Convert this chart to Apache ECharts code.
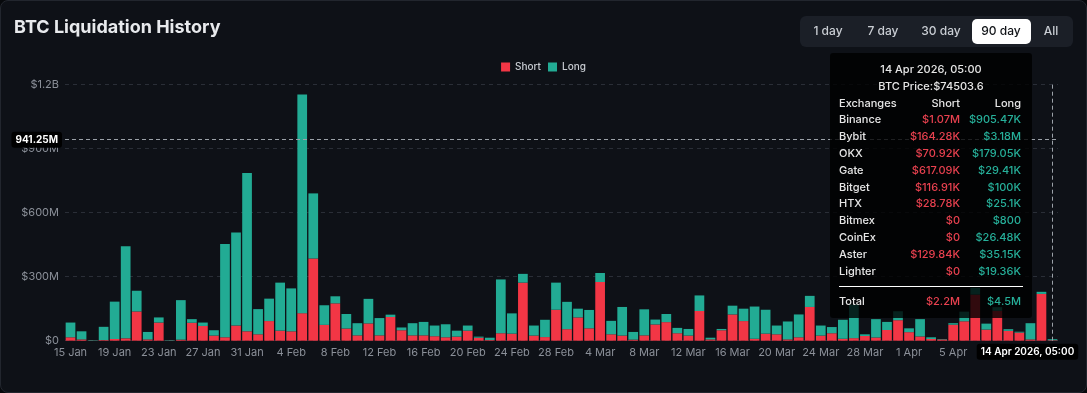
<!DOCTYPE html>
<html>
<head>
<meta charset="utf-8">
<script src="https://cdn.jsdelivr.net/npm/echarts@6/dist/echarts.min.js"></script>
<style>
  html, body { margin: 0; padding: 0; background: #07090c; }
  #card { position: absolute; left: 0; top: 0; width: 1085px; height: 391px; border: 1px solid #22262e; border-radius: 8px; background: #0e1117; }
  #chart { position: absolute; left: 0; top: 0; width: 1087px; height: 393px; }
</style>
</head>
<body>
<div id="card"></div>
<div id="chart"></div>
<script>
// ---- data (values in USD millions) ----
const categories = [
  '15 Jan','16 Jan','17 Jan','18 Jan','19 Jan','20 Jan','21 Jan','22 Jan','23 Jan','24 Jan',
  '25 Jan','26 Jan','27 Jan','28 Jan','29 Jan','30 Jan','31 Jan','1 Feb','2 Feb','3 Feb',
  '4 Feb','5 Feb','6 Feb','7 Feb','8 Feb','9 Feb','10 Feb','11 Feb','12 Feb','13 Feb',
  '14 Feb','15 Feb','16 Feb','17 Feb','18 Feb','19 Feb','20 Feb','21 Feb','22 Feb','23 Feb',
  '24 Feb','25 Feb','26 Feb','27 Feb','28 Feb','1 Mar','2 Mar','3 Mar','4 Mar','5 Mar',
  '6 Mar','7 Mar','8 Mar','9 Mar','10 Mar','11 Mar','12 Mar','13 Mar','14 Mar','15 Mar',
  '16 Mar','17 Mar','18 Mar','19 Mar','20 Mar','21 Mar','22 Mar','23 Mar','24 Mar','25 Mar',
  '26 Mar','27 Mar','28 Mar','29 Mar','30 Mar','31 Mar','1 Apr','2 Apr','3 Apr','4 Apr',
  '5 Apr','6 Apr','7 Apr','8 Apr','9 Apr','10 Apr','11 Apr','12 Apr','13 Apr','14 Apr'
];
const shortVals = [
  16,6,1,3,8,11,137,6,85,1,
  5,84,69,24,16,71,44,30,92,47,
  44,129,385,74,175,57,25,81,25,111,
  49,25,25,21,16,19,47,14,3,35,
  33,272,24,17,145,54,109,58,275,30,
  24,5,25,76,87,35,24,139,6,49,
  123,92,9,33,30,6,16,158,24,35,
  9,12,22,15,50,96,40,20,8,6,
  75,91,216,52,140,46,38,6,219,2.2
];
const longVals = [
  69,38,2,62,175,431,97,35,24,2,
  185,17,16,25,437,436,742,118,105,225,
  201,1024,305,92,33,68,57,115,81,11,
  13,57,63,50,61,28,24,5,11,252,
  95,41,47,81,127,128,41,86,42,63,
  134,36,122,23,38,25,31,73,8,6,
  41,58,151,112,41,84,107,52,47,29,
  89,157,8,86,38,42,18,81,8,2,
  7,45,32,28,17,8,4,76,10,4.5
];
const yTicks = ['$0', '$300M', '$600M', '$900M', '$1.2B'];
const yMax = 1200;
const yInterval = 300;
const crossValue = 941.25;
const crossLabel = '941.25M';
const crossCategory = '14 Apr';
const crossDateLabel = '14 Apr 2026, 05:00';

// tooltip content
const tipTitle = '14 Apr 2026, 05:00';
const tipPrice = 'BTC Price:$74503.6';
const tipExchanges = ['Binance','Bybit','OKX','Gate','Bitget','HTX','Bitmex','CoinEx','Aster','Lighter'];
const tipShort = ['$1.07M','$164.28K','$70.92K','$617.09K','$116.91K','$28.78K','$0','$0','$129.84K','$0'];
const tipLong = ['$905.47K','$3.18M','$179.05K','$29.41K','$100K','$25.1K','$800','$26.48K','$35.15K','$19.36K'];
const tipTotal = ['$2.2M', '$4.5M'];

const rangeButtons = ['1 day', '7 day', '30 day', '90 day', 'All'];
const activeRange = '90 day';

const RED = '#f23645';
const TEAL = '#22ab94';
const FONT = 'Inter, "Noto Sans", sans-serif';

const chart = echarts.init(document.getElementById('chart'));

function tooltipHtml() {
  const row = (a, b, c, bc, cc) =>
    '<div style="display:flex;height:16.8px;line-height:16.8px;">' +
    '<span style="width:60px;">' + a + '</span>' +
    '<span style="width:61px;text-align:right;color:' + bc + ';">' + b + '</span>' +
    '<span style="width:61px;text-align:right;color:' + cc + ';">' + c + '</span></div>';
  let h = '<div style="text-align:center;height:16.8px;line-height:16.8px;">' + tipTitle + '</div>';
  h += '<div style="text-align:center;height:16.8px;line-height:16.8px;">' + tipPrice + '</div>';
  h += row('Exchanges', 'Short', 'Long', '#e6e6e6', '#e6e6e6');
  for (let i = 0; i < tipExchanges.length; i++) {
    h += row(tipExchanges[i], tipShort[i], tipLong[i], '#e8414f', '#26b09a');
  }
  h += '<div style="height:1px;background:#ffffff;margin:7px 0 6px 0;"></div>';
  h += row('Total', tipTotal[0], tipTotal[1], '#e8414f', '#26b09a');
  return h;
}

// range buttons group (decoration)
const btnCenters = [828, 883, 941, 1001, 1051];
const btnGraphics = [
  { type: 'rect', shape: { x: 800, y: 16, width: 273, height: 31, r: 6 }, style: { fill: '#1b1f27' }, z: 10 },
  { type: 'rect', shape: { x: 972, y: 19, width: 59, height: 25, r: 5 }, style: { fill: '#ffffff' }, z: 11 }
];
rangeButtons.forEach((t, i) => {
  btnGraphics.push({
    type: 'text', x: btnCenters[i], y: 31.5, z: 12,
    style: { text: t, fill: t === activeRange ? '#111418' : '#c9cdd3', font: '500 12px ' + FONT, align: 'center', verticalAlign: 'middle' }
  });
});

const option = {
  backgroundColor: 'transparent',
  animation: false,
  textStyle: { fontFamily: FONT },
  title: {
    text: 'BTC Liquidation History', left: 9, top: 14,
    textStyle: { color: '#e8eaed', fontSize: 18, fontWeight: 'bold', fontFamily: FONT }
  },
  legend: {
    top: 57, left: 'center', itemWidth: 9, itemHeight: 9, itemGap: 7, icon: 'rect',
    textStyle: { color: '#c9cdd3', fontSize: 10, fontWeight: 500 },
    data: ['Short', 'Long']
  },
  grid: { left: 65, right: 29, top: 84.5, bottom: 52.3, containLabel: false },
  tooltip: {
    trigger: 'axis',
    axisPointer: { type: 'none' },
    alwaysShowContent: true,
    transitionDuration: 0,
    showDelay: 0,
    backgroundColor: 'rgba(0,0,0,0.8)',
    borderWidth: 0,
    padding: [8, 9, 8, 9],
    extraCssText: 'box-shadow:none;border-radius:3px;width:184px;',
    textStyle: { color: '#e6e6e6', fontSize: 11, fontFamily: FONT, fontWeight: 500 },
    position: function () { return [830, 53]; },
    formatter: tooltipHtml
  },
  xAxis: {
    type: 'category',
    data: categories,
    axisLine: { show: false },
    axisTick: { show: false },
    axisLabel: { interval: 3, color: '#8b9099', fontSize: 11, margin: 6 },
    splitLine: { show: false }
  },
  yAxis: {
    type: 'value', min: 0, max: yMax, interval: yInterval,
    axisLine: { show: false }, axisTick: { show: false },
    axisLabel: {
      color: '#8b9099', fontSize: 11, margin: 6,
      formatter: function (v) { return yTicks[Math.round(v / yInterval)]; }
    },
    splitLine: { lineStyle: { color: '#2a2e37', type: [4, 4] } }
  },
  series: [
    {
      name: 'Short', type: 'bar', stack: 'liq', data: shortVals,
      itemStyle: { color: RED }, barCategoryGap: '12%'
    },
    {
      name: 'Long', type: 'bar', stack: 'liq', data: longVals,
      itemStyle: { color: TEAL }, barCategoryGap: '12%',
      markLine: {
        silent: true, symbol: 'none', animation: false,
        lineStyle: { color: '#9ba1a8', type: [4, 3], width: 1 },
        data: [
          {
            yAxis: crossValue,
            label: {
              show: true, position: 'start', formatter: crossLabel, distance: 3,
              color: '#ffffff', fontSize: 10, fontWeight: 'bold', backgroundColor: '#000000',
              padding: [3, 4, 3, 4], borderRadius: 3
            }
          },
          { xAxis: crossCategory, label: { show: false } }
        ]
      }
    }
  ],
  graphic: btnGraphics
};

chart.setOption(option);

// x-axis pointer date label, placed from the axis scale
const p = chart.convertToPixel({ xAxisIndex: 0, yAxisIndex: 0 }, [crossCategory, 0]);
chart.setOption({
  graphic: btnGraphics.concat([{
    type: 'text', x: p[0] - 25, y: p[1] + 3, z: 20,
    style: {
      text: crossDateLabel, fill: '#ffffff', font: '600 10px ' + FONT,
      align: 'center', verticalAlign: 'top', backgroundColor: '#000000',
      padding: [3, 4, 3, 4], borderRadius: 3
    }
  }])
});

chart.dispatchAction({ type: 'showTip', seriesIndex: 1, dataIndex: categories.indexOf(crossCategory) });
</script>
</body>
</html>
